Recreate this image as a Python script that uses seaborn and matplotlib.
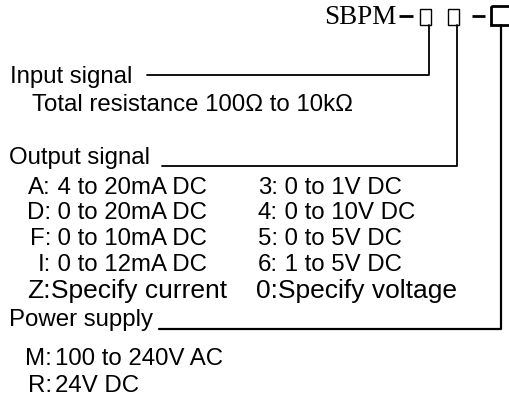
import matplotlib
matplotlib.use("Agg")
import matplotlib.pyplot as plt
import seaborn as sns
from matplotlib.patches import Rectangle

# ---- content ----
model_code = "SBPM"
input_title = "Input signal"
input_desc = "Total resistance 100Ω to 10kΩ"
output_title = "Output signal"
current_codes = ["A:", "D:", "F:", "I:", "Z:"]
current_values = [" 4 to 20mA DC", " 0 to 20mA DC", " 0 to 10mA DC", " 0 to 12mA DC", "Specify current"]
voltage_codes = ["3:", "4:", "5:", "6:", "0:"]
voltage_values = [" 0 to 1V DC", " 0 to 10V DC", " 0 to 5V DC", " 1 to 5V DC", "Specify voltage"]
power_title = "Power supply"
power_codes = ["M:", "R:"]
power_values = ["100 to 240V AC", "24V DC"]

# ---- layout (pixel coordinates) ----
W, H = 510, 400
row_y = [188, 213, 239, 265, 291]
row_fs = [17.3, 17.3, 17.3, 17.3, 19]
power_row_y = [359, 386]

sns.set_theme(style="white")
plt.rcParams["font.family"] = ["Liberation Sans", "DejaVu Sans"]

fig = plt.figure(figsize=(W / 100, H / 100), dpi=100)
ax = fig.add_axes([0, 0, 1, 1])
ax.set_xlim(0, W)
ax.set_ylim(H, 0)
ax.axis("off")

k = "black"
fs = 17.3

# header
ax.text(397, 17, model_code, fontsize=19.5, family="Liberation Serif",
        ha="right", va="center", color=k)
ax.plot([399, 413], [16, 16], color=k, lw=2.0, solid_capstyle="butt")
ax.add_patch(Rectangle((420, 9), 11, 16, fill=False, lw=1.0, ec=k))
ax.add_patch(Rectangle((448, 9), 11, 16, fill=False, lw=1.0, ec=k))
ax.plot([472, 485], [16, 16], color=k, lw=2.0, solid_capstyle="butt")
ax.add_patch(Rectangle((491, 6), 22, 19, fill=False, lw=2.0, ec=k))

# connector lines
ax.plot([147, 429, 429], [75, 75, 25], color=k, lw=1.3)
ax.plot([162, 457, 457], [166, 166, 25], color=k, lw=1.3)
ax.plot([159, 501, 501], [329, 329, 25], color=k, lw=1.6)

# input
ax.text(10, 77, input_title, fontsize=fs, ha="left", va="center", color=k)
ax.text(32, 105, input_desc, fontsize=fs, ha="left", va="center", color=k)

# output
ax.text(9, 158, output_title, fontsize=fs, ha="left", va="center", color=k)
for y, f, c, v in zip(row_y, row_fs, current_codes, current_values):
    ax.text(51, y, c, fontsize=f, ha="right", va="center", color=k)
    ax.text(51, y, v, fontsize=f, ha="left", va="center", color=k)
for y, f, c, v in zip(row_y, row_fs, voltage_codes, voltage_values):
    ax.text(278, y, c, fontsize=f, ha="right", va="center", color=k)
    ax.text(278, y, v, fontsize=f, ha="left", va="center", color=k)

# power
ax.text(9, 320, power_title, fontsize=fs, ha="left", va="center", color=k)
for y, c, v in zip(power_row_y, power_codes, power_values):
    ax.text(52, y, c, fontsize=fs, ha="right", va="center", color=k)
    ax.text(55, y, v, fontsize=17.3, ha="left", va="center", color=k)

fig.savefig("out.png", dpi=100)
